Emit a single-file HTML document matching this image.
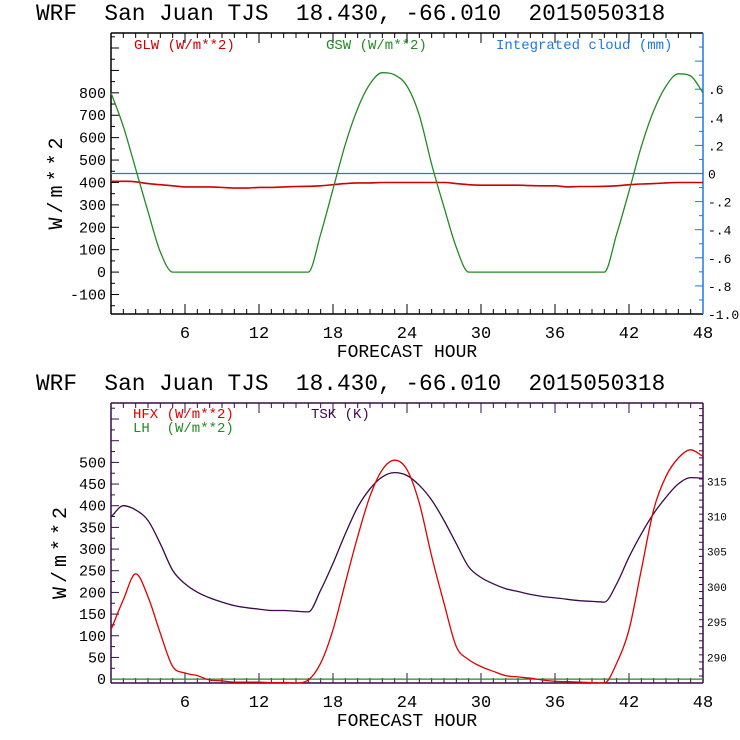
<!DOCTYPE html>
<html><head><meta charset="utf-8"><style>
body{margin:0;background:#fff;width:740px;height:740px;overflow:hidden}
svg{display:block}
text{font-family:"Liberation Mono","DejaVu Sans Mono",monospace;white-space:pre}
</style></head><body>
<svg id="chart" width="740" height="740" xmlns="http://www.w3.org/2000/svg" xml:space="preserve"></svg>
<script>
const hours = Array.from({length:49},(_,i)=>i);
const xTicks = [6,12,18,24,30,36,42,48];
const glw = [405,405,403,395,390,385,380,380,380,378,375,375,378,378,380,382,383,385,390,395,398,398,400,400,400,400,400,400,395,390,388,388,388,388,386,385,385,380,382,382,383,385,390,393,395,398,400,400,400];
const gsw = [800,650,460,270,90,0,0,0,0,0,0,0,0,0,0,0,0,170,370,570,730,840,890,880,830,700,480,290,110,0,0,0,0,0,0,0,0,0,0,0,0,170,360,560,720,830,885,875,800];
const cloud = [0,0,0,0,0,0,0,0,0,0,0,0,0,0,0,0,0,0,0,0,0,0,0,0,0,0,0,0,0,0,0,0,0,0,0,0,0,0,0,0,0,0,0,0,0,0,0,0,0];
const topLeftTicks = [-100,0,100,200,300,400,500,600,700,800];
const topRightTicks = ['.6','.4','.2','0','-.2','-.4','-.6','-.8','-1.0'];
const topRightVals = [0.6,0.4,0.2,0,-0.2,-0.4,-0.6,-0.8,-1.0];
const hfx = [114,183,243,190,106,29,14,8,-2,-4,-7,-7,-7,-8,-8,-9,-2,37,114,222,329,422,483,505,483,406,283,175,75,45,29,18,8,5,2,-2,-5,-6,-7,-8,-9,37,114,252,391,468,510,529,514];
const lh = hours.map(()=>0);
const tsk = [309.8,311.4,310.8,309.3,306.0,302.2,300.3,299.1,298.3,297.7,297.2,296.9,296.7,296.5,296.5,296.4,296.3,299.4,303.2,307.4,311.2,313.8,315.5,316.1,315.7,314.3,312.2,309.3,306.0,302.7,301.2,300.3,299.6,299.2,298.8,298.5,298.3,298.1,297.9,297.8,297.7,300.3,304.1,307.4,310.3,312.6,314.5,315.4,315.3];
const botLeftTicks = [0,50,100,150,200,250,300,350,400,450,500];
const botRightTicks = [290,295,300,305,310,315];

const NS="http://www.w3.org/2000/svg";
const svg=document.getElementById('chart');
function el(tag,attrs,parent){const e=document.createElementNS(NS,tag);for(const k in attrs)e.setAttribute(k,attrs[k]);(parent||svg).appendChild(e);return e;}
function txt(s,attrs,parent){const e=el('text',attrs,parent);e.textContent=s;return e;}

const L=111,R=703;
const xs=h=>L+(R-L)*h/48;

// monotone cubic (Fritsch-Carlson) path: no overshoot
function smoothPath(pts){
  const n=pts.length,d=[],m=[];
  for(let i=0;i<n-1;i++)d.push((pts[i+1][1]-pts[i][1])/(pts[i+1][0]-pts[i][0]));
  m[0]=d[0];m[n-1]=d[n-2];
  for(let i=1;i<n-1;i++){m[i]=(d[i-1]*d[i]<=0)?0:(d[i-1]+d[i])/2;}
  for(let i=0;i<n-1;i++){
    if(d[i]===0){m[i]=0;m[i+1]=0;continue;}
    const a=m[i]/d[i],b=m[i+1]/d[i],s=a*a+b*b;
    if(s>9){const t=3/Math.sqrt(s);m[i]=t*a*d[i];m[i+1]=t*b*d[i];}
  }
  let p='M'+pts[0][0].toFixed(1)+','+pts[0][1].toFixed(1);
  for(let i=0;i<n-1;i++){
    const h=(pts[i+1][0]-pts[i][0])/3;
    p+=' C'+(pts[i][0]+h).toFixed(1)+','+(pts[i][1]+m[i]*h).toFixed(1)+' '+(pts[i+1][0]-h).toFixed(1)+','+(pts[i+1][1]-m[i+1]*h).toFixed(1)+' '+pts[i+1][0].toFixed(1)+','+pts[i+1][1].toFixed(1);
  }
  return p;
}

function panel(o){
  const g=el('g',{});
  
  
  const t=txt('WRF  San Juan TJS  18.430, -66.010  2015050318',{x:36,y:o.top-13,'font-size':22.8,fill:'#000'},g);
  
  
  const ys=v=>o.bot-(v-o.ymin)/(o.ymax-o.ymin)*(o.bot-o.top);
  const ys2=v=>o.bot-(v-o.y2min)/(o.y2max-o.y2min)*(o.bot-o.top);
  el('line',{x1:L,y1:o.top,x2:R,y2:o.top,stroke:o.frame,'stroke-width':1.5},g);
  el('line',{x1:L,y1:o.bot,x2:R,y2:o.bot,stroke:o.frame,'stroke-width':1.5},g);
  el('line',{x1:L,y1:o.top,x2:L,y2:o.bot,stroke:o.frame,'stroke-width':1.5},g);
  el('line',{x1:R,y1:o.top,x2:R,y2:o.bot,stroke:o.rcol,'stroke-width':1.5},g);
  for(let h=1;h<48;h++){const len=h%6==0?10:5;const x=xs(h);
    el('line',{x1:x,y1:o.bot,x2:x,y2:o.bot-len,stroke:o.frame},g);
    el('line',{x1:x,y1:o.top,x2:x,y2:o.top+len,stroke:o.frame},g);}
  xTicks.forEach(h=>{const e=txt(String(h),{x:xs(h),y:o.bot+24,'font-size':17,'text-anchor':'middle',fill:'#000'},g);
    });
  const xt=txt('FORECAST HOUR',{x:407,y:o.bot+43,'font-size':18,'text-anchor':'middle',fill:'#000'},g);
  
  for(let v=Math.ceil(o.ymin/o.lminor)*o.lminor;v<=o.ymax;v+=o.lminor){const y=ys(v);if(y<o.top+1||y>o.bot-1)continue;
    el('line',{x1:L,y1:y,x2:L+(v%o.lmajor==0?8:4),y2:y,stroke:o.frame},g);}
  o.lticks.forEach(v=>{const e=txt(String(v),{x:L-5,y:ys(v)+5,'font-size':15,'text-anchor':'end',fill:'#000'},g);
    });
  const yt=txt('W/m**2',{x:0,y:0,'font-size':20,'text-anchor':'middle',fill:'#000','letter-spacing':4,transform:`translate(${o.ytx},${(o.top+o.bot)/2+8}) rotate(-90)`},g);
  
  for(let i=0;;i++){const v=o.y2min+i*o.rminor;if(v>o.y2max+1e-9)break;const y=ys2(v);if(y<o.top+1||y>o.bot-1)continue;
    const major=Math.abs(Math.round(v/o.rmajor)*o.rmajor-v)<1e-6;
    el('line',{x1:R,y1:y,x2:R-(major?8:4),y2:y,stroke:o.rcol},g);}
  o.rvals.forEach((v,i)=>{const e=txt(o.rlabels[i],{x:o.rlx,y:ys2(v)+5,'font-size':o.rfs,fill:'#000'},g);
    });
  o.series.forEach(s=>{const f=s.right?ys2:ys;
    const pts=s.data.map((v,i)=>[xs(hours[i]),f(v)]);
    const p=el('path',{d:smoothPath(pts),fill:'none',stroke:s.color,'stroke-width':s.w||1.3},g);
    });
  o.legend.forEach(l=>{const e=txt(l.t,{x:l.x,y:l.y,'font-size':14,fill:l.c,'font-family':'Liberation Serif, serif'},g);
    });
}

panel({name:'radiation-panel',top:33,bot:314,ymin:-187,ymax:1067,y2min:-1,y2max:1,frame:'#000',rcol:'#1e78e6',
  lminor:50,lmajor:100,rminor:0.1,rmajor:0.2,lticks:topLeftTicks,ytx:62,rvals:topRightVals,rlabels:topRightTicks,rlx:708,rfs:13,
  series:[{name:'cloud-line',data:cloud,color:'#1e78e6',right:true},{name:'glw-line',data:glw,color:'#d00000',w:1.6},{name:'gsw-line',data:gsw,color:'#228b22'}],
  legend:[{t:'GLW (W/m**2)',x:134,y:49,c:'#d00000'},{t:'GSW (W/m**2)',x:326,y:49,c:'#228b22'},{t:'Integrated cloud (mm)',x:496,y:49,c:'#1e78e6'}]});

panel({name:'flux-panel',top:403,bot:683,ymin:-9,ymax:637,y2min:286.2,y2max:326,frame:'#3a0a4a',rcol:'#3a0a4a',
  lminor:25,lmajor:50,rminor:1,rmajor:5,lticks:botLeftTicks,ytx:66,rvals:botRightTicks,rlabels:botRightTicks.map(String),rlx:707,rfs:11,
  series:[{name:'lh-line',data:lh,color:'#228b22'},{name:'tsk-line',data:tsk,color:'#3a0a4a',right:true},{name:'hfx-line',data:hfx,color:'#e00000'}],
  legend:[{t:'HFX (W/m**2)',x:133,y:418,c:'#e00000'},{t:'LH  (W/m**2)',x:133,y:432,c:'#228b22'},{t:'TSK (K)',x:311,y:418,c:'#3a0a4a'}]});
</script>
</body></html>
